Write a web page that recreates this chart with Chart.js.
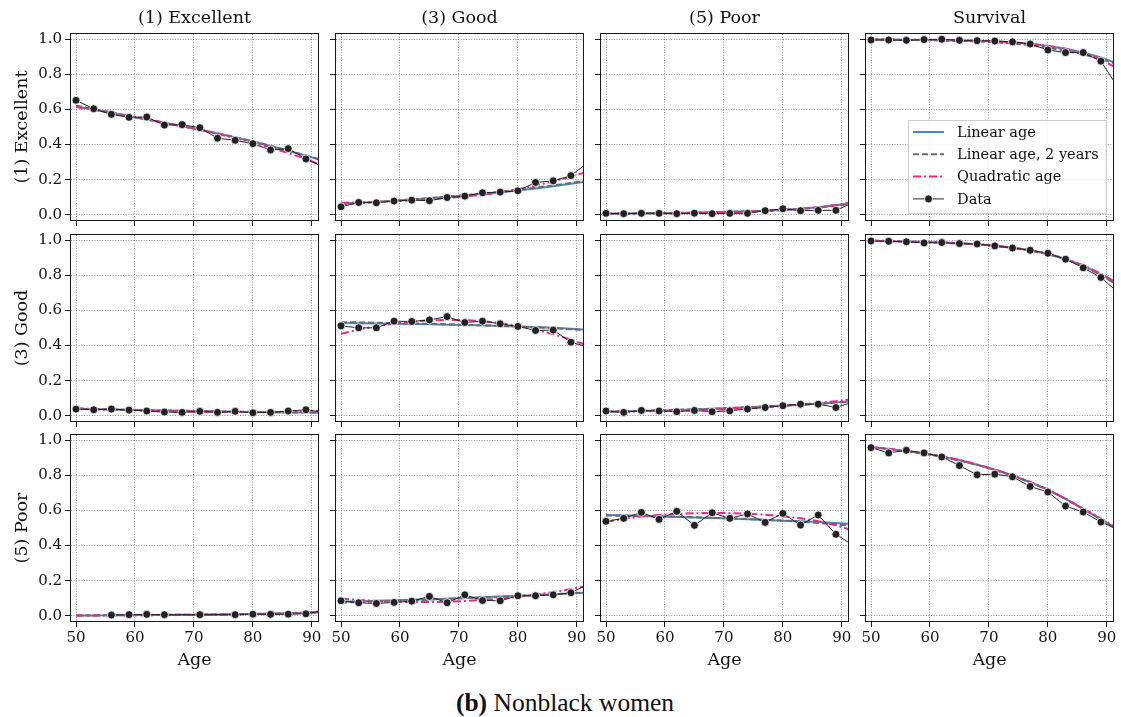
<!DOCTYPE html>
<html>
<head>
<meta charset="utf-8">
<title>Health transitions by age</title>
<script src="https://cdn.jsdelivr.net/npm/chart.js@4.4.1/dist/chart.umd.min.js"></script>
<style>
  body { margin: 0; background: #fff; }
  #fig { position: relative; width: 1121px; height: 717px; overflow: hidden; background: #fff; }
  #fig canvas { position: absolute; }
  #caption {
    position: absolute; left: 0; width: 1130px; top: 689px; line-height: 28px;
    text-align: center; font-family: "Liberation Serif", serif; font-size: 25.5px; color: #111;
  }
</style>
</head>
<body>
<div id="fig"><div id="caption"><b>(b)</b> Nonblack women</div></div>
<script>
// ages at which observed shares and fitted curves are evaluated
const ages = [50, 53, 56, 59, 62, 65, 68, 71, 74, 77, 80, 83, 86, 89, 92];
const xTicks = [50, 60, 70, 80, 90];
const yTicks = [0, 0.2, 0.4, 0.6, 0.8, 1.0];
const rowLabels = ['(1) Excellent', '(3) Good', '(5) Poor'];
const colLabels = ['(1) Excellent', '(3) Good', '(5) Poor', 'Survival'];
const seriesNames = ['Linear age', 'Linear age, 2 years', 'Quadratic age', 'Data'];

// from (1) Excellent
const exExData = [0.652, 0.604, 0.572, 0.555, 0.557, 0.511, 0.513, 0.496, 0.436, 0.424, 0.405, 0.369, 0.377, 0.318, 0.270];
const exExLin  = [0.617, 0.600, 0.580, 0.560, 0.542, 0.523, 0.504, 0.484, 0.463, 0.441, 0.417, 0.392, 0.365, 0.337, 0.307];
const exExLin2 = [0.622, 0.603, 0.583, 0.563, 0.544, 0.524, 0.505, 0.485, 0.464, 0.442, 0.418, 0.393, 0.366, 0.338, 0.309];
const exExQuad = [0.614, 0.599, 0.582, 0.564, 0.545, 0.525, 0.505, 0.484, 0.461, 0.437, 0.411, 0.383, 0.352, 0.318, 0.278];

const exGdData = [0.045, 0.070, 0.068, 0.078, 0.083, 0.080, 0.098, 0.106, 0.125, 0.129, 0.136, 0.184, 0.193, 0.223, 0.300];
const exGdLin  = [0.062, 0.068, 0.074, 0.080, 0.087, 0.094, 0.102, 0.110, 0.119, 0.128, 0.138, 0.149, 0.162, 0.176, 0.192];
const exGdLin2 = [0.060, 0.066, 0.073, 0.080, 0.087, 0.095, 0.103, 0.112, 0.121, 0.131, 0.142, 0.154, 0.167, 0.181, 0.197];
const exGdQuad = [0.068, 0.070, 0.073, 0.077, 0.082, 0.088, 0.096, 0.104, 0.114, 0.127, 0.145, 0.166, 0.190, 0.217, 0.248];

const exPrData = [0.008, 0.006, 0.008, 0.008, 0.006, 0.009, 0.006, 0.008, 0.008, 0.023, 0.034, 0.023, 0.025, 0.025, 0.070];
const exPrLin  = [0.006, 0.007, 0.008, 0.009, 0.010, 0.012, 0.014, 0.017, 0.020, 0.023, 0.027, 0.034, 0.043, 0.054, 0.068];
const exPrLin2 = [0.006, 0.007, 0.008, 0.009, 0.011, 0.012, 0.014, 0.017, 0.020, 0.023, 0.027, 0.033, 0.041, 0.051, 0.064];
const exPrQuad = [0.005, 0.005, 0.006, 0.007, 0.008, 0.010, 0.012, 0.015, 0.018, 0.022, 0.027, 0.034, 0.043, 0.055, 0.072];

const exSvData = [0.996, 0.996, 0.994, 0.998, 1.000, 0.994, 0.992, 0.990, 0.985, 0.973, 0.939, 0.924, 0.924, 0.875, 0.720];
const exSvLin  = [0.998, 0.998, 0.997, 0.996, 0.995, 0.993, 0.991, 0.987, 0.982, 0.974, 0.962, 0.946, 0.925, 0.897, 0.860];
const exSvLin2 = [0.998, 0.997, 0.996, 0.995, 0.993, 0.991, 0.988, 0.983, 0.976, 0.966, 0.952, 0.935, 0.914, 0.888, 0.855];
const exSvQuad = [0.998, 0.998, 0.997, 0.997, 0.996, 0.994, 0.992, 0.988, 0.983, 0.975, 0.963, 0.946, 0.921, 0.885, 0.830];

// from (3) Good
const gdExData = [0.038, 0.034, 0.038, 0.032, 0.027, 0.021, 0.019, 0.025, 0.019, 0.025, 0.017, 0.019, 0.027, 0.034, 0.020];
const gdExLin  = [0.040, 0.038, 0.036, 0.034, 0.032, 0.030, 0.028, 0.027, 0.025, 0.023, 0.022, 0.020, 0.019, 0.018, 0.016];
const gdExLin2 = [0.039, 0.037, 0.035, 0.033, 0.031, 0.030, 0.028, 0.026, 0.025, 0.023, 0.022, 0.021, 0.019, 0.018, 0.017];
const gdExQuad = [0.043, 0.039, 0.035, 0.032, 0.029, 0.026, 0.024, 0.023, 0.022, 0.021, 0.021, 0.022, 0.023, 0.025, 0.028];

const gdGdData = [0.512, 0.501, 0.501, 0.539, 0.537, 0.546, 0.565, 0.531, 0.539, 0.524, 0.509, 0.486, 0.488, 0.419, 0.390];
const gdGdLin  = [0.528, 0.527, 0.526, 0.524, 0.523, 0.521, 0.519, 0.517, 0.515, 0.512, 0.509, 0.505, 0.501, 0.496, 0.490];
const gdGdLin2 = [0.533, 0.532, 0.530, 0.528, 0.526, 0.524, 0.521, 0.518, 0.515, 0.512, 0.508, 0.504, 0.499, 0.493, 0.487];
const gdGdQuad = [0.467, 0.491, 0.510, 0.525, 0.536, 0.543, 0.546, 0.545, 0.539, 0.528, 0.512, 0.491, 0.465, 0.434, 0.398];

const gdPrData = [0.027, 0.019, 0.030, 0.027, 0.023, 0.030, 0.023, 0.028, 0.038, 0.047, 0.057, 0.066, 0.066, 0.047, 0.080];
const gdPrLin  = [0.022, 0.025, 0.027, 0.030, 0.033, 0.036, 0.040, 0.044, 0.048, 0.053, 0.058, 0.063, 0.069, 0.076, 0.083];
const gdPrLin2 = [0.023, 0.025, 0.028, 0.031, 0.034, 0.037, 0.040, 0.044, 0.048, 0.052, 0.057, 0.062, 0.068, 0.074, 0.081];
const gdPrQuad = [0.024, 0.024, 0.025, 0.026, 0.028, 0.031, 0.034, 0.038, 0.043, 0.049, 0.056, 0.064, 0.073, 0.083, 0.095];

const gdSvData = [0.996, 0.994, 0.991, 0.985, 0.987, 0.981, 0.979, 0.968, 0.956, 0.943, 0.926, 0.892, 0.843, 0.788, 0.700];
const gdSvLin  = [0.997, 0.995, 0.993, 0.990, 0.987, 0.983, 0.977, 0.969, 0.958, 0.943, 0.922, 0.893, 0.855, 0.805, 0.745];
const gdSvLin2 = [0.997, 0.995, 0.993, 0.990, 0.986, 0.982, 0.976, 0.968, 0.957, 0.942, 0.921, 0.892, 0.853, 0.802, 0.740];
const gdSvQuad = [0.998, 0.996, 0.994, 0.991, 0.988, 0.983, 0.977, 0.969, 0.958, 0.943, 0.923, 0.895, 0.858, 0.810, 0.752];

// from (5) Poor
const prExData = [null, null, 0.004, 0.006, 0.008, 0.006, null, 0.006, null, 0.006, 0.009, 0.008, 0.009, 0.011, 0.030];
const prExLin  = [0.002, 0.002, 0.003, 0.003, 0.004, 0.004, 0.005, 0.006, 0.007, 0.008, 0.010, 0.012, 0.014, 0.017, 0.020];
const prExLin2 = [0.002, 0.002, 0.003, 0.003, 0.004, 0.005, 0.005, 0.006, 0.007, 0.009, 0.010, 0.012, 0.014, 0.017, 0.020];
const prExQuad = [0.002, 0.002, 0.002, 0.003, 0.003, 0.004, 0.004, 0.005, 0.006, 0.008, 0.010, 0.012, 0.015, 0.019, 0.025];

const prGdData = [0.085, 0.074, 0.070, 0.076, 0.083, 0.110, 0.074, 0.119, 0.087, 0.085, 0.114, 0.114, 0.119, 0.131, 0.180];
const prGdLin  = [0.080, 0.082, 0.085, 0.088, 0.091, 0.094, 0.097, 0.101, 0.105, 0.109, 0.113, 0.117, 0.122, 0.127, 0.133];
const prGdLin2 = [0.075, 0.078, 0.081, 0.085, 0.088, 0.092, 0.096, 0.100, 0.104, 0.108, 0.113, 0.118, 0.123, 0.128, 0.134];
const prGdQuad = [0.098, 0.090, 0.084, 0.080, 0.078, 0.078, 0.080, 0.084, 0.090, 0.098, 0.108, 0.120, 0.135, 0.152, 0.172];

const prPrData = [0.538, 0.555, 0.589, 0.549, 0.595, 0.515, 0.587, 0.555, 0.580, 0.532, 0.583, 0.517, 0.574, 0.464, 0.400];
const prPrLin  = [0.574, 0.572, 0.569, 0.566, 0.563, 0.560, 0.557, 0.554, 0.550, 0.546, 0.542, 0.538, 0.534, 0.529, 0.523];
const prPrLin2 = [0.571, 0.570, 0.568, 0.566, 0.564, 0.561, 0.558, 0.555, 0.551, 0.547, 0.542, 0.536, 0.529, 0.521, 0.512];
const prPrQuad = [0.535, 0.552, 0.565, 0.574, 0.580, 0.584, 0.586, 0.585, 0.582, 0.576, 0.567, 0.555, 0.539, 0.515, 0.485];

const prSvData = [0.958, 0.928, 0.943, 0.928, 0.905, 0.856, 0.803, 0.807, 0.792, 0.737, 0.705, 0.625, 0.591, 0.534, 0.490];
const prSvLin  = [0.960, 0.950, 0.938, 0.924, 0.907, 0.886, 0.861, 0.832, 0.799, 0.761, 0.718, 0.666, 0.608, 0.549, 0.487];
const prSvLin2 = [0.961, 0.950, 0.938, 0.923, 0.906, 0.885, 0.860, 0.831, 0.798, 0.760, 0.717, 0.666, 0.609, 0.551, 0.490];
const prSvQuad = [0.962, 0.951, 0.939, 0.925, 0.909, 0.888, 0.862, 0.833, 0.801, 0.763, 0.720, 0.668, 0.610, 0.555, 0.495];

// grid of panels: rows = origin state, columns = destination
const panels = [
  [
    { data: exExData, lin: exExLin, lin2: exExLin2, quad: exExQuad },
    { data: exGdData, lin: exGdLin, lin2: exGdLin2, quad: exGdQuad },
    { data: exPrData, lin: exPrLin, lin2: exPrLin2, quad: exPrQuad },
    { data: exSvData, lin: exSvLin, lin2: exSvLin2, quad: exSvQuad }
  ],
  [
    { data: gdExData, lin: gdExLin, lin2: gdExLin2, quad: gdExQuad },
    { data: gdGdData, lin: gdGdLin, lin2: gdGdLin2, quad: gdGdQuad },
    { data: gdPrData, lin: gdPrLin, lin2: gdPrLin2, quad: gdPrQuad },
    { data: gdSvData, lin: gdSvLin, lin2: gdSvLin2, quad: gdSvQuad }
  ],
  [
    { data: prExData, lin: prExLin, lin2: prExLin2, quad: prExQuad },
    { data: prGdData, lin: prGdLin, lin2: prGdLin2, quad: prGdQuad },
    { data: prPrData, lin: prPrLin, lin2: prPrLin2, quad: prPrQuad },
    { data: prSvData, lin: prSvLin, lin2: prSvLin2, quad: prSvQuad }
  ]
];

// layout (px)
const colLeft = [71, 336, 601, 866];
const rowTop = [34, 235, 435];
const plotW = 247, plotH = 186;
const padL = 70, padR = 10, padT = 34, padB = 60;

const BLUE = '#4a87c5';
const GRAY = '#6b6b6b';
const PINK = '#e7298a';
const INK = '#111111';
const GRID = 'rgba(60,60,60,0.7)';
const SERIF = '"DejaVu Serif", serif';
const tickFont = { family: SERIF, size: 15 };
const labelFont = { family: SERIF, size: 17.5 };

// axes box around the plot area, snapped to whole pixels
const framePlugin = {
  id: 'frame',
  afterDatasetsDraw(chart) {
    const { ctx, chartArea: a } = chart;
    const l = Math.round(a.left) - 0.5, t = Math.round(a.top) - 0.5;
    const w = Math.round(a.right) - Math.round(a.left) + 1;
    const h = Math.round(a.bottom) - Math.round(a.top) + 1;
    ctx.save();
    ctx.strokeStyle = '#1a1a1a';
    ctx.lineWidth = 1;
    ctx.strokeRect(l, t, w, h);
    ctx.restore();
  }
};

// matplotlib-style legend drawn inside the plot area (lower right)
const insideLegend = {
  id: 'insideLegend',
  afterDraw(chart, args, opts) {
    if (!opts.show) return;
    const { ctx, chartArea: a } = chart;
    const sets = chart.data.datasets;
    const rowH = 22.3, sampleW = 31, gap = 13, padX = 5;
    ctx.save();
    ctx.font = '14.5px ' + SERIF;
    const textW = Math.max(...sets.map(d => ctx.measureText(d.label).width));
    const w = padX + sampleW + gap + textW + 7;
    const h = 12 + rowH * (sets.length - 1) + 14;
    const x0 = Math.round(a.right - 7 - w), y0 = Math.round(a.bottom - 7 - h);
    ctx.fillStyle = 'rgba(255,255,255,0.85)';
    ctx.fillRect(x0, y0, w, h);
    ctx.strokeStyle = '#cccccc';
    ctx.lineWidth = 1;
    ctx.strokeRect(x0 + 0.5, y0 + 0.5, w, h);
    sets.forEach((d, i) => {
      const y = y0 + 12 + i * rowH;
      ctx.strokeStyle = d.borderColor;
      ctx.lineWidth = d.borderWidth;
      ctx.setLineDash(d.borderDash || []);
      ctx.beginPath();
      ctx.moveTo(x0 + padX, y);
      ctx.lineTo(x0 + padX + sampleW, y);
      ctx.stroke();
      ctx.setLineDash([]);
      if (d.pointRadius) {
        ctx.beginPath();
        ctx.arc(x0 + padX + sampleW / 2, y, d.pointRadius, 0, Math.PI * 2);
        ctx.fillStyle = d.pointBackgroundColor;
        ctx.fill();
        ctx.strokeStyle = d.pointBorderColor;
        ctx.lineWidth = d.pointBorderWidth;
        ctx.stroke();
      }
      ctx.fillStyle = INK;
      ctx.textBaseline = 'middle';
      ctx.fillText(d.label, x0 + padX + sampleW + gap, y + 1);
    });
    ctx.restore();
  }
};

const fig = document.getElementById('fig');
const toPoints = arr => arr.map((v, i) => ({ x: ages[i], y: v }));

function fitLine(label, values, color, dash, order) {
  return {
    label, data: toPoints(values), borderColor: color, borderWidth: 2, borderDash: dash,
    pointRadius: 0, fill: false, tension: 0, order
  };
}

function makePanel(r, c) {
  const p = panels[r][c];
  const canvas = document.createElement('canvas');
  canvas.width = padL + plotW + padR;
  canvas.height = padT + plotH + padB;
  canvas.style.left = (colLeft[c] - padL) + 'px';
  canvas.style.top = (rowTop[r] - padT) + 'px';
  fig.appendChild(canvas);

  const gridOpts = { color: GRID, lineWidth: 0.8, tickLength: 6, tickColor: '#1a1a1a', tickWidth: 1 };
  const borderOpts = { display: false, dash: [1, 1.6] };

  new Chart(canvas, {
    type: 'line',
    data: {
      datasets: [
        fitLine(seriesNames[0], p.lin, BLUE, [], 3),
        fitLine(seriesNames[1], p.lin2, GRAY, [6, 3], 2),
        fitLine(seriesNames[2], p.quad, PINK, [8, 3, 2, 3], 1),
        {
          label: seriesNames[3], data: toPoints(p.data), borderColor: '#222', borderWidth: 1,
          pointRadius: 4, pointBackgroundColor: '#222', pointBorderColor: '#ffffff',
          pointBorderWidth: 0.8, spanGaps: true, tension: 0, order: 0
        }
      ]
    },
    options: {
      responsive: false,
      animation: false,
      devicePixelRatio: 1,
      layout: { padding: { left: 0, right: padR, top: r === 0 ? 0 : padT, bottom: 0 } },
      scales: {
        x: {
          type: 'linear', min: 49.15, max: 91.05,
          afterBuildTicks: s => { s.ticks = xTicks.map(v => ({ value: v })); },
          afterFit: s => { s.height = padB; },
          ticks: { display: r === 2, font: tickFont, color: INK, padding: 2, maxRotation: 0 },
          grid: gridOpts,
          border: borderOpts,
          title: { display: r === 2, text: 'Age', font: labelFont, color: INK, padding: { top: 0, bottom: 10.5 } }
        },
        y: {
          min: -0.03, max: 1.03,
          afterBuildTicks: s => { s.ticks = yTicks.map(v => ({ value: v })); },
          afterFit: s => { s.width = padL; },
          ticks: { display: c === 0, font: tickFont, color: INK, padding: 3, callback: v => v.toFixed(1) },
          grid: gridOpts,
          border: borderOpts,
          title: { display: c === 0, text: rowLabels[r], font: labelFont, color: INK, padding: { top: 10.5, bottom: 0 } }
        }
      },
      plugins: {
        legend: { display: false },
        tooltip: { enabled: false },
        title: {
          display: r === 0, text: colLabels[c], fullSize: false, font: { ...labelFont, weight: 'normal' },
          color: INK, padding: { top: 7.5, bottom: 5.5 }
        },
        insideLegend: { show: r === 0 && c === 3 }
      }
    },
    plugins: [framePlugin, insideLegend]
  });
}

for (let r = 0; r < 3; r++) {
  for (let c = 0; c < 4; c++) makePanel(r, c);
}
</script>
</body>
</html>
